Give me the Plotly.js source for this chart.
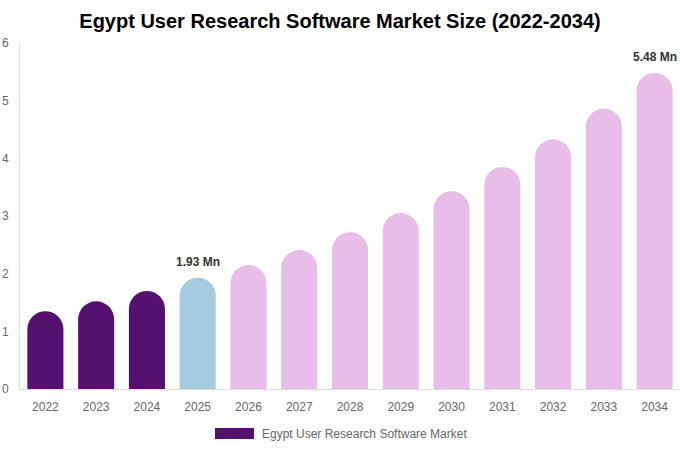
<!DOCTYPE html>
<html>
<head>
<meta charset="utf-8">
<script src="https://cdn.plot.ly/plotly-3.0.1.min.js"></script>
<style>
  html, body { margin: 0; padding: 0; background: #fff; }
  #chart { width: 680px; height: 450px; }
</style>
</head>
<body>
<div id="chart"></div>
<script>
const years = ['2022', '2023', '2024', '2025', '2026', '2027', '2028',
               '2029', '2030', '2031', '2032', '2033', '2034'];
const marketSize = [1.35, 1.52, 1.70, 1.93, 2.15, 2.41, 2.72,
                    3.05, 3.43, 3.85, 4.33, 4.86, 5.48];
const barLabels = ['', '', '', '1.93 Mn', '', '', '',
                   '', '', '', '', '', '5.48 Mn'];
const seriesName = 'Egypt User Research Software Market';

const HISTORIC = '#551170';
const CURRENT = '#a5cbe0';
const FORECAST = '#e8bde9';

const barColors = years.map((y, i) => {
    if (i < 3) return HISTORIC;
    if (i === 3) return CURRENT;
    return FORECAST;
});

const plotData = [{
    x: years,
    y: marketSize,
    type: 'bar',
    name: seriesName,
    width: 0.71,
    marker: { color: barColors, cornerradius: 18 },
    hoverinfo: 'x+y',
    showlegend: false
}];

// value labels over the bars that have one (category axis -> serial index)
const valueNotes = barLabels
    .map((t, i) => ({ t, i }))
    .filter(d => d.t !== '')
    .map(d => ({
        x: d.i,
        y: marketSize[d.i],
        xref: 'x', yref: 'y',
        yanchor: 'bottom',
        yshift: 7,
        text: '<b>' + d.t + '</b>',
        showarrow: false,
        font: { size: 12, color: '#333' }
    }));

const layout = {
    width: 680,
    height: 450,
    margin: { t: 43, r: 0, b: 61, l: 20 },
    paper_bgcolor: '#fff',
    plot_bgcolor: '#fff',
    font: { family: 'Liberation Sans, Arial, sans-serif', size: 12, color: '#666' },
    title: {
        text: '<b>Egypt User Research Software Market Size (2022-2034)</b>',
        font: { family: 'Liberation Sans, Arial, sans-serif', size: 20, color: '#000' },
        x: 0.5,
        xanchor: 'center',
        y: 0.953,
        yanchor: 'middle'
    },
    xaxis: {
        type: 'category',
        range: [-0.5, years.length - 0.5],
        showgrid: false,
        showline: true,
        linecolor: '#ddd',
        ticks: '',
        ticklabelstandoff: 7,
        tickfont: { size: 12, color: '#666' }
    },
    yaxis: {
        range: [0, 6],
        dtick: 1,
        showgrid: false,
        zeroline: false,
        showline: true,
        linecolor: '#ddd',
        ticks: '',
        ticklabelstandoff: 8,
        tickfont: { size: 12, color: '#666' }
    },
    shapes: [{
        type: 'rect',
        xref: 'paper', yref: 'paper',
        x0: (215 - 20) / 660, x1: (254 - 20) / 660,
        y0: -(439 - 389) / 346, y1: -(428 - 389) / 346,
        fillcolor: HISTORIC,
        line: { width: 0 }
    }],
    annotations: valueNotes.concat([{
        xref: 'paper', yref: 'paper',
        x: (260 - 20) / 660,
        y: -(433.5 - 389) / 346,
        xanchor: 'left', yanchor: 'middle',
        text: seriesName,
        showarrow: false,
        font: { size: 12, color: '#666' }
    }])
};

Plotly.newPlot('chart', plotData, layout, { displayModeBar: false, staticPlot: true });
</script>
</body>
</html>
